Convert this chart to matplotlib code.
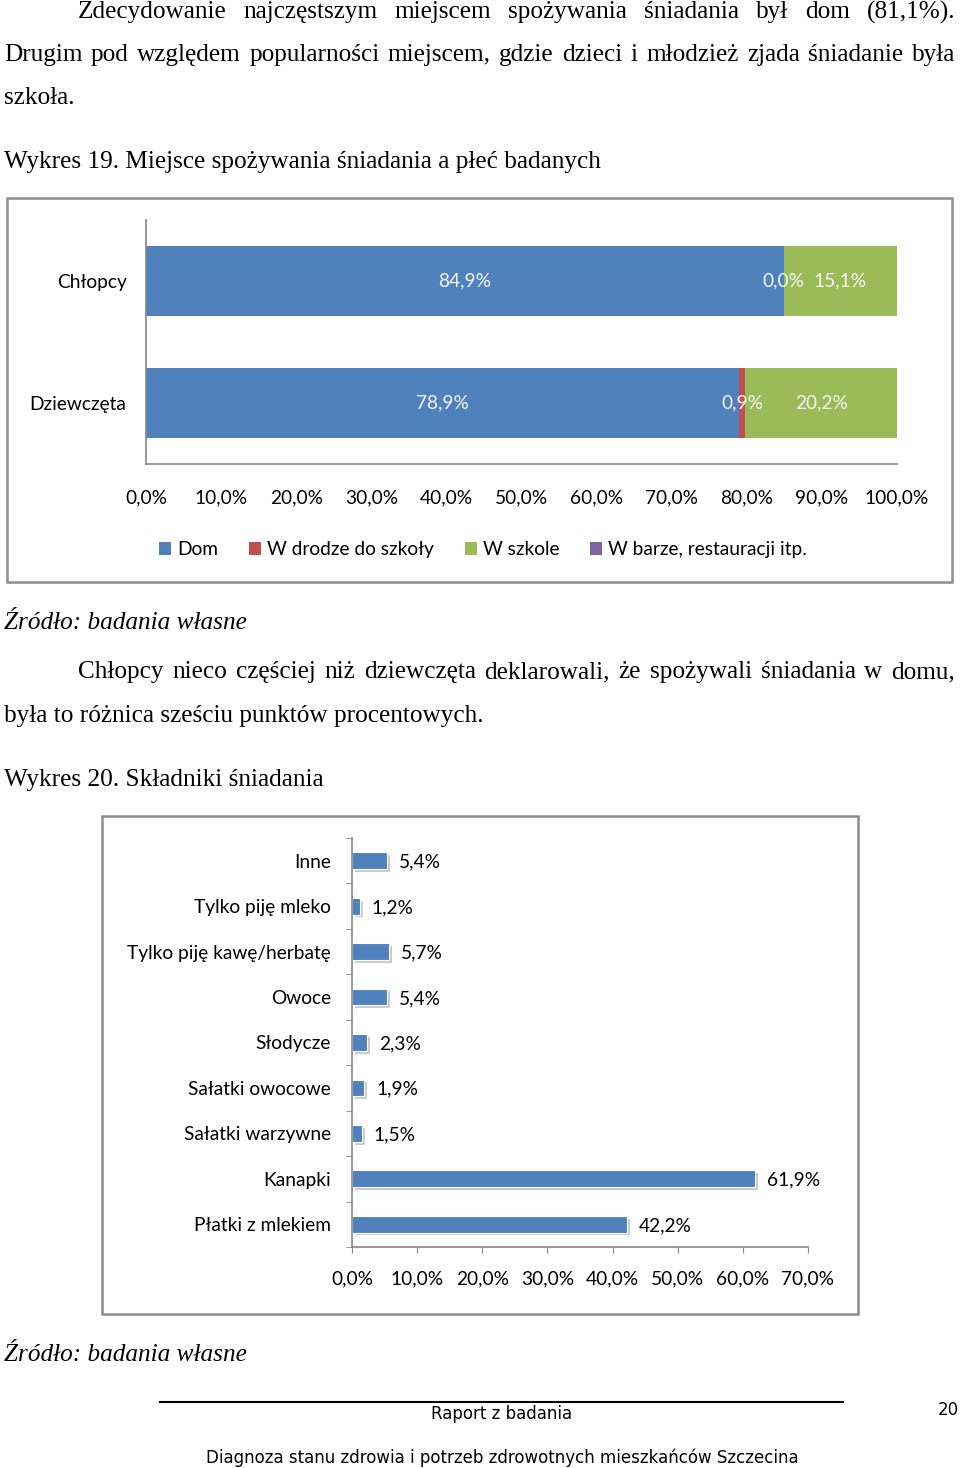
import numpy as np
import matplotlib
matplotlib.use("Agg")
import matplotlib.pyplot as plt
import matplotlib.patheffects as pe
from matplotlib.patches import Rectangle, Patch
from matplotlib.lines import Line2D

# chart 19 data
groups = ["Chłopcy", "Dziewczęta"]
series_names = ["Dom", "W drodze do szkoły", "W szkole", "W barze, restauracji itp."]
dom = [84.9, 78.9]
droga = [0.0, 0.9]
szkola = [15.1, 20.2]
bar_rest = [0.0, 0.0]
colors1 = ["#4F81BD", "#C0504D", "#9BBB59", "#8064A2"]

# chart 20 data (top to bottom)
skladniki = ["Inne", "Tylko piję mleko", "Tylko piję kawę/herbatę", "Owoce", "Słodycze",
             "Sałatki owocowe", "Sałatki warzywne", "Kanapki", "Płatki z mlekiem"]
procent = [5.4, 1.2, 5.7, 5.4, 2.3, 1.9, 1.5, 61.9, 42.2]

W, H = 960, 1468
fig = plt.figure(figsize=(W / 100, H / 100), dpi=100)

def fx(x):
    return x / W

def fy(y):
    return 1 - y / H

def pct(v):
    return f"{v:.1f}%".replace(".", ",")

SERIF = "Liberation Serif"
CHART = "Lato"
FS = 13.8
grey = "#868686"

def justify(text, x0, x1, y, **kw):
    words = text.split()
    objs = [fig.text(0, fy(y), w, va="center", ha="left", **kw) for w in words]
    r = fig.canvas.get_renderer()
    widths = [o.get_window_extent(r).width for o in objs]
    gap = (x1 - x0 - sum(widths)) / (len(words) - 1)
    x = x0
    for o, w in zip(objs, widths):
        o.set_x(fx(x))
        x += w + gap

body = dict(family=SERIF, fontsize=18.2, color="black")
justify("Zdecydowanie najczęstszym miejscem spożywania śniadania był dom (81,1%).", 78, 955, 12, **body)
justify("Drugim pod względem popularności miejscem, gdzie dzieci i młodzież zjada śniadanie była", 4, 955, 55, **body)
fig.text(fx(4), fy(98), "szkoła.", va="center", **body)
fig.text(fx(4), fy(162), "Wykres 19. Miejsce spożywania śniadania a płeć badanych", va="center", **body)

# chart frames
for (x0, y0, x1, y1) in [(7, 198, 952, 582), (102, 816, 858, 1314)]:
    fig.add_artist(Rectangle((fx(x0), fy(y1)), fx(x1 - x0), (y1 - y0) / H,
                             transform=fig.transFigure, fill=False, ec="#8c8c8c", lw=1.8))

# ---- chart 19 ----
ax1 = fig.add_axes([fx(146), fy(464), fx(751), 244 / H])
y = np.arange(len(groups))
left = np.zeros(len(groups))
all_series = [dom, droga, szkola, bar_rest]
for i, (vals, c) in enumerate(zip(all_series, colors1)):
    vals = np.array(vals)
    ax1.barh(y, vals, left=left, height=0.574, color=c, edgecolor="none")
    if i < 3:
        for yy, l, v in zip(y, left, vals):
            ax1.text(l + v / 2, yy, pct(v), ha="center", va="center", color="#f4f4f4",
                     family=CHART, fontsize=FS)
    left += vals
ax1.set_xlim(0, 100)
ax1.set_ylim(-0.5, 1.5)
ax1.invert_yaxis()
ax1.set_yticks(y)
ax1.set_yticklabels(groups, family=CHART, fontsize=FS)
ax1.set_xticks(np.arange(0, 101, 10))
ax1.set_xticklabels([pct(v) for v in np.arange(0, 101, 10)], family=CHART, fontsize=FS)
ax1.tick_params(axis="y", length=0, pad=14)
ax1.tick_params(axis="x", length=0, pad=18)
for s in ["top", "right"]:
    ax1.spines[s].set_visible(False)
for s in ["left", "bottom"]:
    ax1.spines[s].set_color(grey)
    ax1.spines[s].set_linewidth(1.2)
ax1.patch.set_alpha(0)

handles = [Patch(facecolor=c, edgecolor="none") for c in colors1]
fig.legend(handles, series_names, loc="center", bbox_to_anchor=(fx(483), fy(550)),
           ncol=4, frameon=False, handlelength=0.65, handleheight=0.65, handletextpad=0.3,
           columnspacing=1.6, prop=dict(family=CHART, size=FS))

fig.text(fx(4), fy(623), "Źródło: badania własne", va="center", style="italic", **body)
justify("Chłopcy nieco częściej niż dziewczęta deklarowali, że spożywali śniadania w domu,", 78, 955, 672, **body)
fig.text(fx(4), fy(716), "była to różnica sześciu punktów procentowych.", va="center", **body)
fig.text(fx(4), fy(780), "Wykres 20. Składniki śniadania", va="center", **body)

# ---- chart 20 ----
ax2 = fig.add_axes([fx(352), fy(1247), fx(456), 409 / H])
y2 = np.arange(len(skladniki))
shadow = [pe.SimplePatchShadow(offset=(2, -2), shadow_rgbFace="#999999", alpha=0.5), pe.Normal()]
bars = ax2.barh(y2, procent, height=0.37, color="#4F81BD", edgecolor="white", lw=0.8)
for b in bars:
    b.set_path_effects(shadow)
for yy, v in zip(y2, procent):
    ax2.text(v + 1.8, yy + 0.03, pct(v), ha="left", va="center", color="black",
             family=CHART, fontsize=FS)
ax2.set_xlim(0, 70)
ax2.set_ylim(-0.5, len(skladniki) - 0.5)
ax2.invert_yaxis()
ax2.set_yticks(y2)
ax2.set_yticklabels(skladniki, family=CHART, fontsize=FS)
ax2.set_yticks(np.arange(-0.5, len(skladniki), 1), minor=True)
ax2.set_xticks(np.arange(0, 71, 10))
ax2.set_xticklabels([pct(v) for v in np.arange(0, 71, 10)], family=CHART, fontsize=FS)
ax2.tick_params(axis="y", which="major", length=0, pad=15)
ax2.tick_params(axis="y", which="minor", length=4, color=grey, direction="out")
ax2.tick_params(axis="x", length=4, color=grey, direction="out", pad=13)
for s in ["top", "right"]:
    ax2.spines[s].set_visible(False)
for s in ["left", "bottom"]:
    ax2.spines[s].set_color(grey)
    ax2.spines[s].set_linewidth(1.2)
ax2.patch.set_alpha(0)

fig.text(fx(4), fy(1355), "Źródło: badania własne", va="center", style="italic", **body)

# footer
fig.add_artist(Line2D([fx(160), fx(843)], [fy(1402), fy(1402)], transform=fig.transFigure,
                      color="black", lw=1.5))
foot = dict(family="DejaVu Sans", fontsize=12, color="black", va="center")
fig.text(fx(502), fy(1414), "Raport z badania", ha="center", **foot)
fig.text(fx(959), fy(1410), "20", ha="right", **foot)
fig.text(fx(502), fy(1458), "Diagnoza stanu zdrowia i potrzeb zdrowotnych mieszkańców Szczecina",
         ha="center", **foot)

fig.savefig("out.png", dpi=100)
